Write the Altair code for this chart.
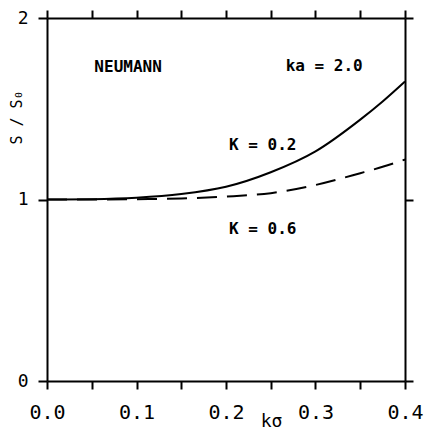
import altair as alt
import pandas as pd

# k*sigma values and S/S0 for the two curves
k_sigma = [0.0, 0.05, 0.1, 0.15, 0.2, 0.25, 0.3, 0.35, 0.375, 0.4]
s_K02 = [1.0, 1.002, 1.01, 1.03, 1.07, 1.15, 1.265, 1.44, 1.54, 1.65]
s_K06 = [1.0, 1.0, 1.002, 1.006, 1.016, 1.035, 1.08, 1.145, 1.18, 1.22]

x_ticks = [0.0, 0.05, 0.1, 0.15, 0.2, 0.25, 0.3, 0.35, 0.4]
y_ticks = [0, 1, 2]

ann_x = [0.0906, 0.3097, 0.241, 0.241]
ann_y = [1.732, 1.737, 1.30, 0.84]
ann_text = ["NEUMANN", "ka = 2.0", "K = 0.2", "K = 0.6"]

FONT = "DejaVu Sans Mono"

df_a = pd.DataFrame({"ks": k_sigma, "S": s_K02})
df_b = pd.DataFrame({"ks": k_sigma, "S": s_K06})
df_t = pd.DataFrame({"ks": ann_x, "S": ann_y, "t": ann_text})

xs = alt.Scale(domain=[0, 0.4], nice=False, zero=False)
ys = alt.Scale(domain=[0, 2], nice=False, zero=False)

x_bottom = alt.X(
    "ks:Q", scale=xs,
    axis=alt.Axis(
        orient="bottom", values=x_ticks, tickSize=8, labelPadding=13,
        labelFontSize=20, labelFont=FONT, labelColor="black",
        labelExpr="round(datum.value*20) % 2 == 0 ? format(datum.value, '.1f') : ''",
        labelFlush=False, labelOverlap=False,
        title="kσ", titleFont=FONT, titleFontSize=18, titleFontWeight="normal",
        titleColor="black", titleX=224, titleY=40, titleAlign="center",
        titleBaseline="middle",
    ),
)
y_left = alt.Y(
    "S:Q", scale=ys,
    axis=alt.Axis(
        orient="left", values=y_ticks, tickSize=9, labelPadding=10,
        labelFontSize=18, labelFont=FONT, labelColor="black",
        labelOverlap=False, labelExpr="format(datum.value, 'd')",
        title="S / S₀", titleFont=FONT, titleFontSize=15, titleFontWeight="normal",
        titleColor="black", titleX=-31, titleY=99, titleAngle=270,
        titleAlign="center", titleBaseline="middle",
    ),
)
x_top = alt.X(
    "ks:Q", scale=xs,
    axis=alt.Axis(orient="top", values=x_ticks, tickSize=8, labels=False, title=None),
)
y_right = alt.Y(
    "S:Q", scale=ys,
    axis=alt.Axis(orient="right", values=y_ticks, tickSize=8, labels=False, title=None),
)

solid = alt.Chart(df_a).mark_line(
    color="black", strokeWidth=2, interpolate="monotone"
).encode(x=x_bottom, y=y_left)
dashed = alt.Chart(df_b).mark_line(
    color="black", strokeWidth=2, strokeDash=[20, 10], interpolate="monotone"
).encode(x=x_top, y=y_right)
texts = alt.Chart(df_t).mark_text(
    font=FONT, fontSize=16, fontWeight="bold", color="black", align="center", baseline="middle"
).encode(
    x=alt.X("ks:Q", scale=xs, axis=None),
    y=alt.Y("S:Q", scale=ys, axis=None),
    text="t:N",
)

chart = (
    alt.layer(solid, dashed, texts)
    .resolve_axis(x="independent", y="independent")
    .properties(
        width=358, height=363,
        padding={"left": 47, "top": 18, "right": 20, "bottom": 57},
        autosize=alt.AutoSizeParams(type="none"),
        background="white",
    )
    .configure_view(stroke=None)
    .configure_axis(
        grid=False, domainColor="black", domainWidth=2, tickColor="black", tickWidth=2,
    )
)

chart.save("out.html", embed_options={"renderer": "svg", "actions": False})
